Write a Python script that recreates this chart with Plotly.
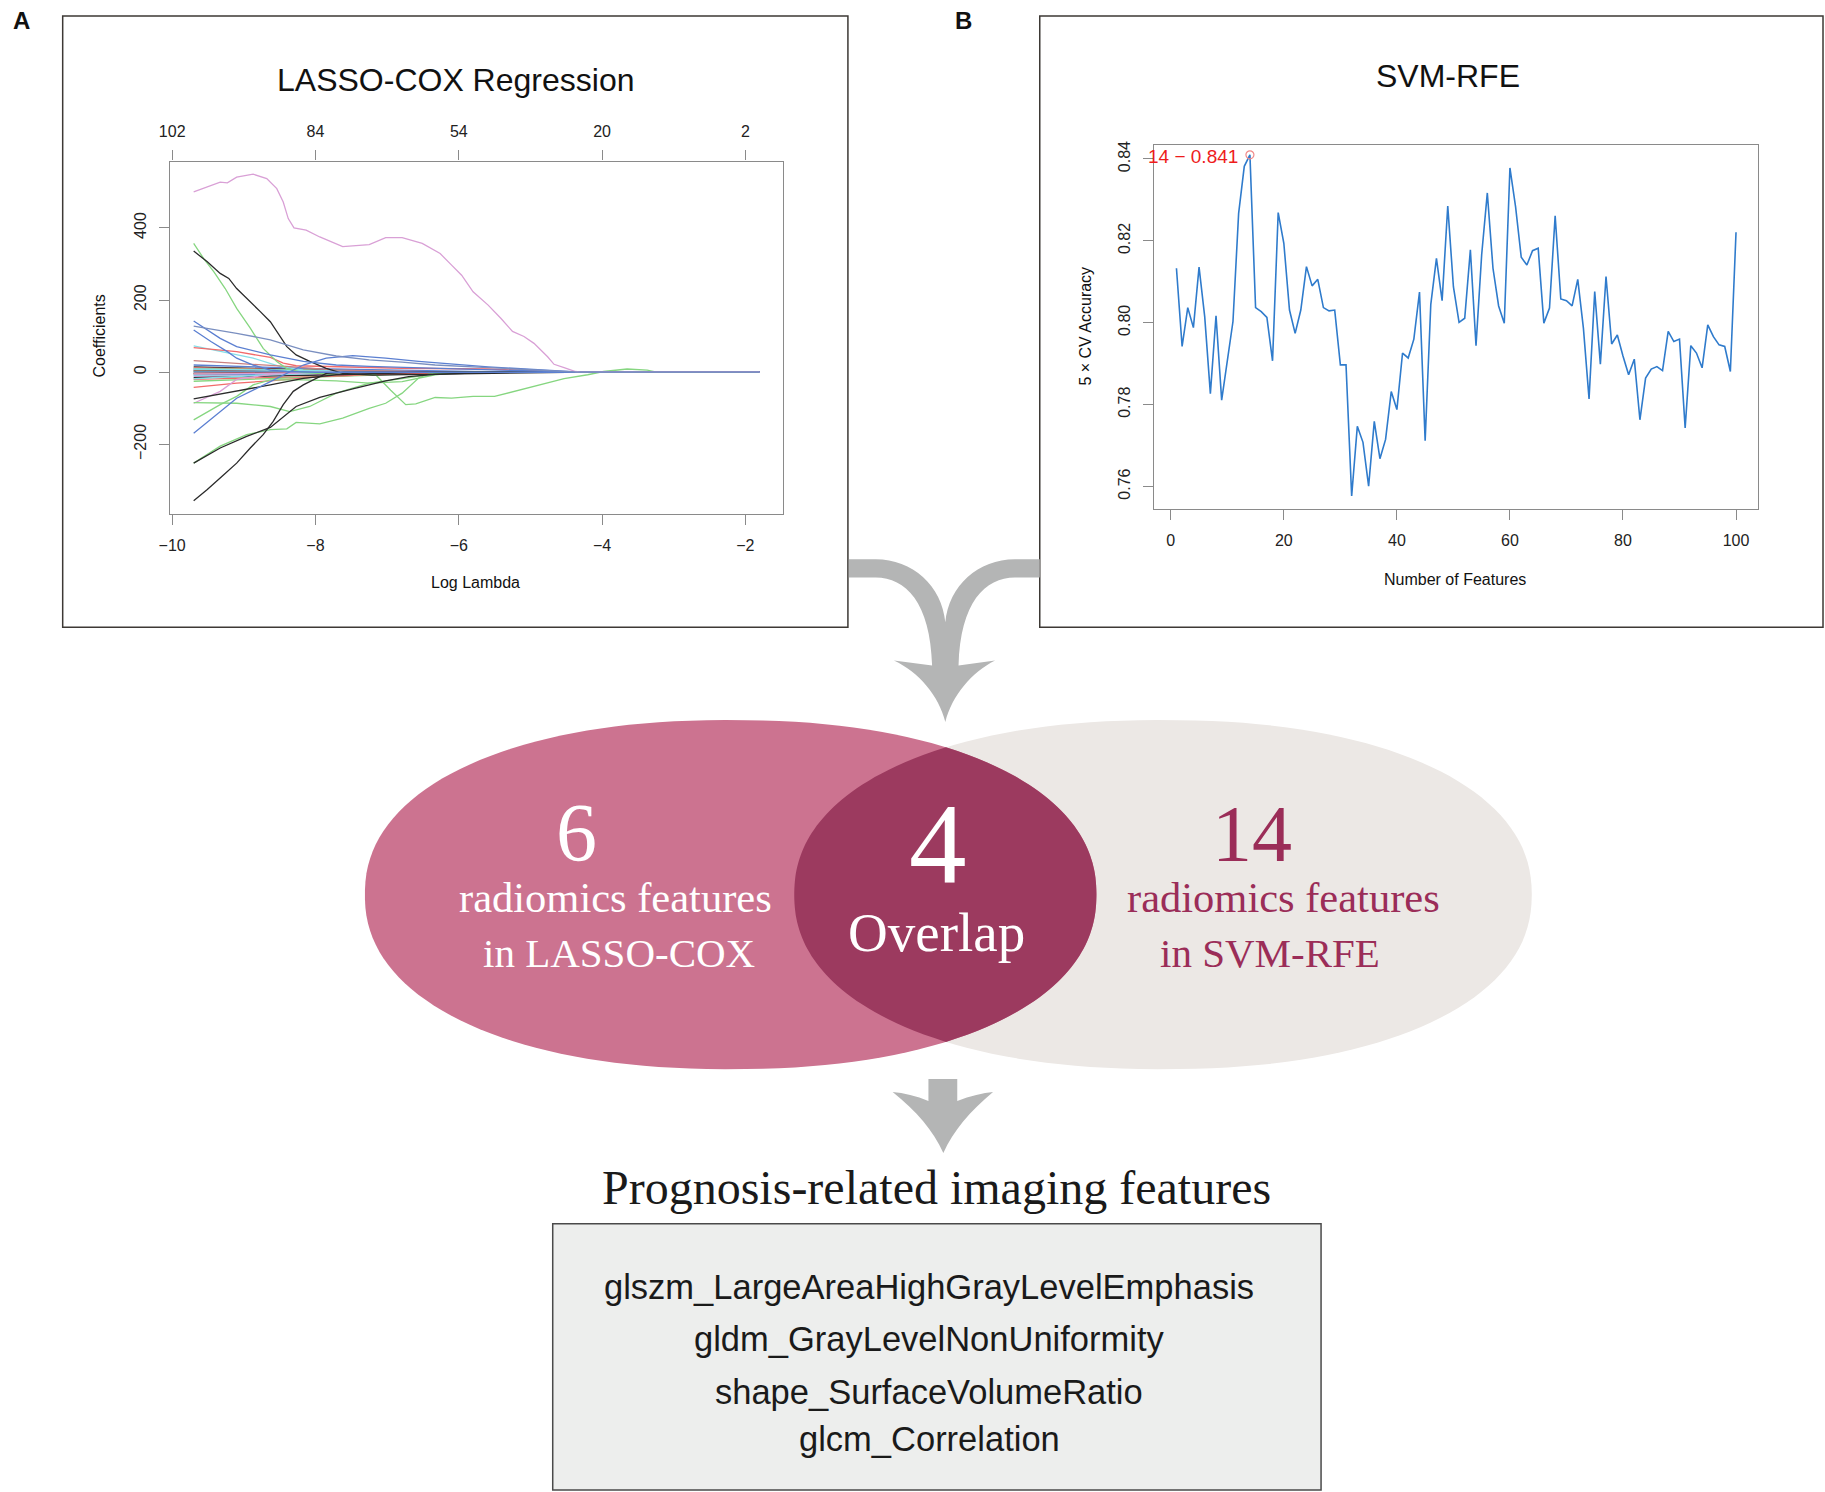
import numpy as np
import plotly.graph_objects as go

W, H = 1825, 1492

# ---- panel A: LASSO-COX coefficient paths (log lambda, coefficient) ----
pink_lam = [-9.7, -9.5, -9.33, -9.23, -9.1, -8.87, -8.68, -8.54, -8.45, -8.38, -8.3, -8.13, -7.94,
            -7.62, -7.25, -7.02, -6.79, -6.51, -6.26, -6.1, -5.96, -5.8, -5.69, -5.59, -5.41, -5.25,
            -5.09, -4.95, -4.76, -4.67, -4.53, -4.37, -4.3, -1.8]
pink_coef = [500, 514, 527, 525, 541, 549, 537, 509, 472, 426, 400, 394, 375, 348, 354, 373, 373,
             357, 329, 297, 269, 223, 205, 186, 149, 113, 99, 80, 43, 22, 13, 2, 0, 0]

green_a_lam = [-9.7, -9.56, -9.42, -9.26, -9.1, -8.91, -8.73, -8.54, -8.4, -8.2, -7.8, -7.4, -7.16,
               -6.95, -6.74, -6.6, -6.33, -6.1, -5.8, -5.5, -5.22, -4.9, -4.53, -4.2, -3.98, -3.65,
               -3.37, -3.24, -1.8]
green_a_coef = [357, 315, 279, 232, 177, 122, 66, 30, 10, 0, -5, -5, -7, -50, -90, -88, -70, -72,
                -67, -67, -53, -35, -18, -7, 2, 9, 6, 0, 0]

black_a_lam = [-9.7, -9.51, -9.33, -9.21, -9.1, -8.91, -8.77, -8.63, -8.5, -8.4, -8.27, -8.08, -7.85,
               -7.62, -7.2, -6.5, -5.5, -4.5, -1.8]
black_a_coef = [336, 306, 274, 260, 232, 196, 168, 140, 103, 71, 48, 30, 11, -3, -8, -6, -3, 0, 0]

blue_a_lam = [-9.7, -9.1, -8.63, -8.17, -7.71, -7.25, -6.79, -6.33, -5.59, -4.8, -4.3, -1.8]
blue_a_coef = [128, 108, 90, 62, 45, 34, 28, 20, 13, 6, 0, 0]

blue_b_lam = [-9.7, -9.33, -9.1, -8.63, -8.17, -7.71, -7.25, -6.5, -5.5, -4.6, -4.3, -1.8]
blue_b_coef = [142, 94, 71, 48, 30, 20, 16, 12, 8, 2, 0, 0]

blue_c_lam = [-9.7, -9.46, -9.23, -9.1, -8.87, -8.63, -8.4, -8.0, -1.8]
blue_c_coef = [117, 85, 57, 39, 20, 6, 2, 0, 0]

blue_d_lam = [-9.7, -9.33, -9.1, -8.63, -8.17, -7.85, -7.48, -7.02, -6.56, -5.59, -4.8, -4.3, -1.8]
blue_d_coef = [-169, -109, -72, -26, 20, 39, 46, 39, 30, 15, 5, 0, 0]

red_a_lam = [-9.7, -9.1, -8.63, -8.45, -8.27, -7.71, -6.79, -5.59, -4.8, -4.4, -1.8]
red_a_coef = [68, 57, 41, 25, 18, 16, 11, 9, 4, 0, 0]

red_b_lam = [-9.7, -9.1, -8.63, -7.94, -7.25, -6.0, -1.8]
red_b_coef = [-42, -30, -24, -12, -7, 0, 0]

red_c_lam = [-9.7, -9.1, -8.4, -7.71, -6.79, -6.0, -1.8]
red_c_coef = [32, 25, 16, 6, 2, 0, 0]

cyan_a_lam = [-9.7, -9.33, -8.87, -8.5, -8.17, -7.5, -1.8]
cyan_a_coef = [73, 57, 39, 16, 6, 0, 0]

cyan_b_lam = [-9.7, -8.63, -7.5, -1.8]
cyan_b_coef = [-18, -7, 0, 0]

magenta_b_lam = [-9.7, -9.33, -9.1, -8.6, -8.0, -1.8]
magenta_b_coef = [-86, -53, -20, -5, 0, 0]

black_b_lam = [-9.7, -9.1, -8.63, -8.17, -7.71, -6.5, -1.8]
black_b_coef = [-74, -53, -35, -17, -7, 0, 0]

black_c_lam = [-9.7, -9.33, -8.96, -8.63, -8.27, -7.94, -7.48, -7.02, -6.7, -6.33, -5.5, -1.8]
black_c_coef = [-252, -210, -178, -153, -95, -70, -46, -24, -12, -6, 0, 0]

black_d_lam = [-9.7, -9.51, -9.28, -9.1, -8.91, -8.73, -8.59, -8.45, -8.31, -8.17, -7.85, -7.6, -1.8]
black_d_coef = [-356, -325, -284, -252, -210, -173, -136, -90, -53, -35, -3, 0, 0]

green_b_lam = [-9.7, -9.33, -8.96, -8.63, -8.4, -8.27, -7.94, -7.62, -7.25, -7.02, -6.79, -6.56,
               -6.42, -6.0, -1.8]
green_b_coef = [-252, -205, -173, -159, -157, -139, -143, -127, -100, -86, -58, -16, -5, 0, 0]

green_c_lam = [-9.7, -9.33, -9.1, -8.87, -8.63, -8.17, -7.71, -7.25, -6.79, -6.33, -6.0, -1.8]
green_c_coef = [-132, -90, -67, -35, -21, -21, -24, -30, -26, -7, 0, 0]

green_d_lam = [-9.7, -9.1, -8.63, -8.36, -8.08, -7.71, -7.25, -6.79, -6.2, -1.8]
green_d_coef = [-84, -86, -95, -109, -95, -58, -30, -18, 0, 0]

# small coefficients packed around zero: value at -9.7, value at -8.0, log lambda where it hits 0
minor_start = [15, 12, 10, 8, 6, 5, 4, 3, 2, 1, -1, -2, -3, -4, -6, -8, -10, -12, -15, -20, -25, 20, 9, -5]
minor_mid = [8, 6, 5, 4, 3, 3, 2, 2, 1, 1, -1, -1, -2, -2, -3, -5, -6, -7, -9, -12, -14, 10, 5, -3]
minor_zero = [-6.5, -7.0, -6.0, -7.5, -5.5, -7.2, -6.8, -7.6, -7.0, -7.8, -7.4, -6.9, -7.2, -6.6,
              -6.3, -6.0, -5.8, -6.4, -5.9, -6.2, -6.0, -5.2, -6.6, -7.0]

lasso_top_ticks = [-10, -8, -6, -4, -2]
lasso_top_labels = ["102", "84", "54", "20", "2"]

# ---- panel B: SVM-RFE 5-fold CV accuracy ----
n_features = list(range(1, 101))
cv_accuracy = [
    0.8133, 0.7942, 0.8037, 0.7988, 0.8136, 0.8015, 0.7827, 0.8017, 0.7811, 0.7910,
    0.8003, 0.8267, 0.8382, 0.8410, 0.8037, 0.8027, 0.8013, 0.7907, 0.8269, 0.8194,
    0.8031, 0.7974, 0.8031, 0.8137, 0.8090, 0.8106, 0.8037, 0.8029, 0.8031, 0.7897,
    0.7897, 0.7577, 0.7747, 0.7708, 0.7601, 0.7759, 0.7668, 0.7715, 0.7832, 0.7788,
    0.7926, 0.7914, 0.7960, 0.8075, 0.7712, 0.8045, 0.8157, 0.8054, 0.8285, 0.8088,
    0.8001, 0.8011, 0.8178, 0.7944, 0.8166, 0.8317, 0.8133, 0.8041, 0.7999, 0.8378,
    0.8283, 0.8160, 0.8141, 0.8176, 0.8182, 0.7999, 0.8036, 0.8261, 0.8058, 0.8054,
    0.8041, 0.8106, 0.7987, 0.7814, 0.8076, 0.7899, 0.8113, 0.7948, 0.7970, 0.7919,
    0.7873, 0.7911, 0.7763, 0.7865, 0.7887, 0.7893, 0.7883, 0.7979, 0.7954, 0.7960,
    0.7743, 0.7944, 0.7926, 0.7890, 0.7995, 0.7966, 0.7946, 0.7942, 0.7881, 0.8221,
]
best_n, best_acc = 14, 0.841

# ---- venn + selected features ----
lasso_only, overlap, svm_only = 6, 4, 14
selected_features = [
    "glszm_LargeAreaHighGrayLevelEmphasis",
    "gldm_GrayLevelNonUniformity",
    "shape_SurfaceVolumeRatio",
    "glcm_Correlation",
]

BLACK, RED, GREEN, BLUE, CYAN, MAGENTA = "#2b2b2b", "#f26b6b", "#86d680", "#5b7fd1", "#86dfe8", "#d9a0d6"
SANS = "Liberation Sans, Arial, sans-serif"
SERIF = "Liberation Serif, Times New Roman, serif"

fig = go.Figure()


def lasso_line(lam, coef, color):
    fig.add_trace(go.Scatter(x=lam, y=coef, mode="lines", line=dict(color=color, width=1.3),
                             xaxis="x", yaxis="y", showlegend=False, hoverinfo="skip"))


minor_colors = [BLACK, RED, GREEN, BLUE, CYAN, MAGENTA]
for i, (s, m, z) in enumerate(zip(minor_start, minor_mid, minor_zero)):
    lasso_line([-9.7, -8.0, z, -1.8], [s, m, 0, 0], minor_colors[i % 6])

lasso_line(cyan_b_lam, cyan_b_coef, CYAN)
lasso_line(cyan_a_lam, cyan_a_coef, CYAN)
lasso_line(red_c_lam, red_c_coef, "#c98080")
lasso_line(red_b_lam, red_b_coef, RED)
lasso_line(red_a_lam, red_a_coef, RED)
lasso_line(magenta_b_lam, magenta_b_coef, MAGENTA)
lasso_line(green_d_lam, green_d_coef, GREEN)
lasso_line(green_c_lam, green_c_coef, GREEN)
lasso_line(green_b_lam, green_b_coef, GREEN)
lasso_line(green_a_lam, green_a_coef, GREEN)
lasso_line(black_b_lam, black_b_coef, BLACK)
lasso_line(black_c_lam, black_c_coef, BLACK)
lasso_line(black_d_lam, black_d_coef, BLACK)
lasso_line(black_a_lam, black_a_coef, BLACK)
lasso_line(blue_d_lam, blue_d_coef, BLUE)
lasso_line(blue_c_lam, blue_c_coef, BLUE)
lasso_line(blue_b_lam, blue_b_coef, BLUE)
lasso_line(pink_lam, pink_coef, MAGENTA)
lasso_line(blue_a_lam, blue_a_coef, "#7a8fc0")

# dummy trace so the top (df) axis is drawn
fig.add_trace(go.Scatter(x=[-10], y=[0], xaxis="x2", yaxis="y", mode="markers",
                         marker=dict(opacity=0), showlegend=False, hoverinfo="skip"))

fig.add_trace(go.Scatter(x=n_features, y=cv_accuracy, mode="lines", line=dict(color="#2f7bcc", width=1.6),
                         xaxis="x4", yaxis="y4", showlegend=False, hoverinfo="skip"))
fig.add_trace(go.Scatter(x=[best_n], y=[best_acc], mode="markers",
                         marker=dict(symbol="circle-open", size=8, color="#f08a8a", line=dict(width=1.2)),
                         xaxis="x4", yaxis="y4", showlegend=False, hoverinfo="skip"))

# pixel overlay for the diagram parts
fig.add_trace(go.Scatter(x=[0], y=[0], xaxis="x3", yaxis="y3", mode="markers",
                         marker=dict(opacity=0), showlegend=False, hoverinfo="skip"))

ax = dict(showline=True, linecolor="#8a8a8a", linewidth=1.2, mirror=True, ticks="outside", ticklen=10,
          tickcolor="#8a8a8a", showgrid=False, zeroline=False, ticklabelstandoff=7,
          tickfont=dict(family=SANS, size=16, color="#222"))

fig.update_layout(
    width=W, height=H, margin=dict(l=0, r=0, t=0, b=0),
    paper_bgcolor="white", plot_bgcolor="rgba(0,0,0,0)", showlegend=False,
    xaxis=dict(domain=[160 / W, 777 / W], range=[-10.03, -1.47], anchor="y",
               tickvals=lasso_top_ticks, **ax),
    xaxis2=dict(overlaying="x", side="top", anchor="y", range=[-10.03, -1.47],
                tickvals=lasso_top_ticks, ticktext=lasso_top_labels, **ax),
    yaxis=dict(domain=[1 - 511 / H, 1 - 158 / H], range=[-392, 584], anchor="x",
               tickvals=[-200, 0, 200, 400], tickangle=-90, **ax),
    xaxis4=dict(domain=[1150 / W, 1758 / W], range=[-2.96, 103.96], anchor="y4",
                tickvals=[0, 20, 40, 60, 80, 100], **ax),
    yaxis4=dict(domain=[1 - 506 / H, 1 - 141 / H], range=[0.7546, 0.8435], anchor="x4",
                tickvals=[0.76, 0.78, 0.80, 0.82, 0.84], ticktext=["0.76", "0.78", "0.80", "0.82", "0.84"],
                tickangle=-90, **ax),
    xaxis3=dict(domain=[0, 1], range=[0, W], visible=False, anchor="y3", fixedrange=True),
    yaxis3=dict(domain=[0, 1], range=[H, 0], visible=False, anchor="x3", fixedrange=True),
)

shapes = []


def px_shape(**kw):
    shapes.append(dict(xref="x3", yref="y3", **kw))


# panel frames
px_shape(type="rect", x0=52, y0=12, x1=842, y1=625, line=dict(color="#3d3935", width=1.5))
px_shape(type="rect", x0=1035, y0=12, x1=1823, y1=625, line=dict(color="#3d3935", width=1.5))


def blob(cx, cy, rx, ry, p=2.2, n=160):
    t = np.linspace(0, 2 * np.pi, n)
    c, s = np.cos(t), np.sin(t)
    xs = cx + rx * np.sign(c) * np.abs(c) ** (2 / p)
    ys = cy + ry * np.sign(s) * np.abs(s) ** (2 / p)
    return "M " + " L ".join(f"{a:.1f},{b:.1f}" for a, b in zip(xs, ys)) + " Z"


cxL, rxL, cxR, rxR, cy, ry, pw = 724, 368, 1159, 371, 893, 175, 2.2
px_shape(type="path", path=blob(cxR, cy, rxR, ry, pw), fillcolor="#ece8e5", line=dict(width=0))
px_shape(type="path", path=blob(cxL, cy, rxL, ry, pw), fillcolor="#cc7390", line=dict(width=0))

# lens = intersection of the two blobs
f = (cxR - cxL) / (rxR + rxL)
dmax = ry * (1 - f ** pw) ** (1 / pw)
dy = np.linspace(-dmax, dmax, 80)
g = (1 - np.abs(dy / ry) ** pw) ** (1 / pw)
right_edge = [(cxL + rxL * v, cy + d) for v, d in zip(g, dy)]
left_edge = [(cxR - rxR * v, cy + d) for v, d in zip(g[::-1], dy[::-1])]
lens = "M " + " L ".join(f"{a:.1f},{b:.1f}" for a, b in right_edge + left_edge) + " Z"
px_shape(type="path", path=lens, fillcolor="#9c3a5f", line=dict(width=0))

# merging arrow from both panels
ARROW = "#b4b5b5"
px_shape(type="path", fillcolor=ARROW, line=dict(width=0), path=(
    "M 843,556.7 L 870,556.7 C 906.7,556.7 936.7,583.3 940,620 C 943.3,583.3 973.3,556.7 1010,556.7 "
    "L 1035,556.7 L 1035,575 L 1010,575 C 980,575 955,600 953.3,663.3 L 990,658.3 "
    "C 966.7,670 946.7,693.3 940,720 C 933.3,693.3 913.3,670 888.3,658.3 L 926.7,663.3 "
    "C 925,600 900,575 870,575 L 843,575 Z"))
# down arrow to the feature box
px_shape(type="path", fillcolor=ARROW, line=dict(width=0), path=(
    "M 923,1078 L 952,1078 L 952,1100 C 965,1095 978,1092 988,1091 C 965,1110 948,1130 938,1152 "
    "C 928,1130 911,1110 887,1091 C 898,1092 911,1095 923,1100 Z"))

# feature box
px_shape(type="rect", x0=545, y0=1223, x1=1318, y1=1490, fillcolor="#edeeed",
         line=dict(color="#4a4a4a", width=1.5))

fig.update_layout(shapes=shapes)

ann = []


def px_text(x, y, text, size, color="#111", family=SANS, **kw):
    ann.append(dict(xref="x3", yref="y3", x=x, y=y, text=text, showarrow=False,
                    font=dict(family=family, size=size, color=color), **kw))


px_text(11, 17, "<b>A</b>", 24)
px_text(958, 17, "<b>B</b>", 24)
px_text(447, 76, "LASSO-COX Regression", 32)
px_text(89, 333, "Coefficients", 16, textangle=-90)
px_text(467, 580, "Log Lambda", 16)
px_text(1446, 72, "SVM-RFE", 32)
px_text(1081, 323, "5 × CV Accuracy", 16, textangle=-90)
px_text(1453, 577, "Number of Features", 16)
px_text(1236, 153, f"{best_n} − {best_acc}", 19, color="#ee1c1c", xanchor="right")

px_text(569, 831, str(lasso_only), 82, color="white", family=SERIF)
px_text(608, 896, "radiomics features", 42.5, color="white", family=SERIF)
px_text(612, 952, "in LASSO-COX", 41, color="white", family=SERIF)
px_text(933, 843, str(overlap), 115, color="white", family=SERIF)
px_text(931, 931, "Overlap", 55, color="white", family=SERIF)
px_text(1249, 832, str(svm_only), 80, color="#9b2d58", family=SERIF)
px_text(1280, 896, "radiomics features", 42.5, color="#9b2d58", family=SERIF)
px_text(1267, 952, "in SVM-RFE", 41, color="#9b2d58", family=SERIF)

px_text(931, 1187, "Prognosis-related imaging features", 48, color="#1a1a1a", family=SERIF)
for yy, name in zip([1286, 1339, 1392, 1439], selected_features):
    px_text(924, yy, name, 34.5, color="#1a1a1a")

fig.update_layout(annotations=ann)

fig.write_html("out.html", config={"displayModeBar": False},
               post_script="document.body.style.margin='0';document.body.style.overflow='hidden';")
